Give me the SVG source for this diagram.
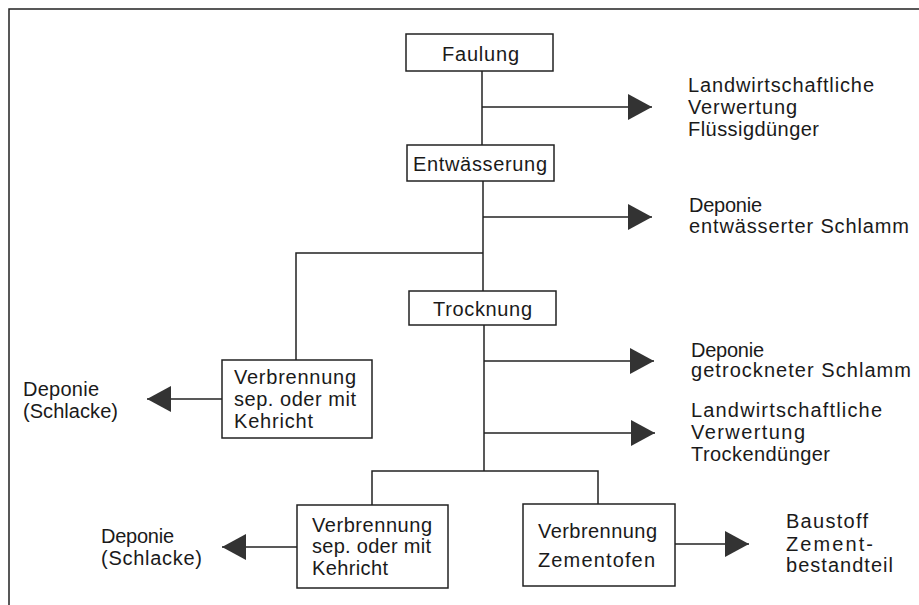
<svg xmlns="http://www.w3.org/2000/svg" width="919" height="605" viewBox="0 0 919 605">
<defs>
<style>
.box{fill:#fff;stroke:#222;stroke-width:1.5}
.ln{fill:none;stroke:#222;stroke-width:1.5}
text{font-family:"Liberation Sans",Arial,sans-serif;font-size:20px;fill:#1a1a1a}
</style>
<marker id="ah" markerUnits="userSpaceOnUse" markerWidth="24" markerHeight="26" refX="24" refY="13" orient="auto" viewBox="0 0 24 26">
<path d="M0,0 L24,13 L0,26 Z" fill="#333"/>
</marker>
</defs>
<rect width="919" height="605" fill="#fff"/>
<polyline class="ln" points="9,605 9,9 919,9"/>

<g id="connectors">
<line class="ln" x1="482" y1="71" x2="482" y2="145"/>
<line class="ln" x1="483" y1="181" x2="483" y2="291"/>
<line class="ln" x1="484" y1="325" x2="484" y2="471"/>
<line class="ln" x1="482" y1="107" x2="652" y2="107" marker-end="url(#ah)"/>
<line class="ln" x1="483" y1="217" x2="652" y2="217" marker-end="url(#ah)"/>
<polyline class="ln" points="483,253 296,253 296,360"/>
<line class="ln" x1="222" y1="399" x2="147" y2="399" marker-end="url(#ah)"/>
<line class="ln" x1="484" y1="361" x2="654" y2="361" marker-end="url(#ah)"/>
<line class="ln" x1="484" y1="433" x2="655" y2="433" marker-end="url(#ah)"/>
<polyline class="ln" points="372,505 372,471 598,471 598,504"/>
<line class="ln" x1="297" y1="547" x2="222" y2="547" marker-end="url(#ah)"/>
<line class="ln" x1="675" y1="544" x2="749" y2="544" marker-end="url(#ah)"/>
</g>

<g id="faulung">
<rect class="box" x="406" y="34" width="147" height="37"/>
<text x="442" y="61" textLength="77" lengthAdjust="spacing">Faulung</text>
</g>
<g id="entwaesserung">
<rect class="box" x="407" y="145" width="147" height="36"/>
<text x="413" y="171" textLength="134" lengthAdjust="spacing">Entwässerung</text>
</g>
<g id="trocknung">
<rect class="box" x="409" y="291" width="147" height="34"/>
<text x="433" y="316" textLength="99" lengthAdjust="spacing">Trocknung</text>
</g>
<g id="verbrennung1">
<rect class="box" x="222" y="360" width="150" height="78"/>
<text x="234" y="384" textLength="122" lengthAdjust="spacing">Verbrennung</text>
<text x="234" y="406" textLength="122" lengthAdjust="spacing">sep. oder mit</text>
<text x="234" y="428" textLength="79" lengthAdjust="spacing">Kehricht</text>
</g>
<g id="verbrennung2">
<rect class="box" x="297" y="505" width="151" height="83"/>
<text x="312" y="532" textLength="120" lengthAdjust="spacing">Verbrennung</text>
<text x="312" y="553" textLength="119" lengthAdjust="spacing">sep. oder mit</text>
<text x="312" y="575" textLength="76" lengthAdjust="spacing">Kehricht</text>
</g>
<g id="zementofen">
<rect class="box" x="523" y="504" width="152" height="82"/>
<text x="538" y="538" textLength="119" lengthAdjust="spacing">Verbrennung</text>
<text x="538" y="567" textLength="117" lengthAdjust="spacing">Zementofen</text>
</g>

<g id="out-fluessig">
<text x="688" y="92" textLength="186" lengthAdjust="spacing">Landwirtschaftliche</text>
<text x="688" y="114" textLength="109" lengthAdjust="spacing">Verwertung</text>
<text x="688" y="136" textLength="131" lengthAdjust="spacing">Flüssigdünger</text>
</g>
<g id="out-deponie-entw">
<text x="689" y="212" textLength="73" lengthAdjust="spacing">Deponie</text>
<text x="689" y="233" textLength="220" lengthAdjust="spacing">entwässerter Schlamm</text>
</g>
<g id="out-deponie-getr">
<text x="691" y="357" textLength="73" lengthAdjust="spacing">Deponie</text>
<text x="691" y="377" textLength="220" lengthAdjust="spacing">getrockneter Schlamm</text>
</g>
<g id="out-trocken">
<text x="691" y="417" textLength="191" lengthAdjust="spacing">Landwirtschaftliche</text>
<text x="691" y="439" textLength="114" lengthAdjust="spacing">Verwertung</text>
<text x="691" y="461" textLength="139" lengthAdjust="spacing">Trockendünger</text>
</g>
<g id="out-schlacke1">
<text x="23" y="396" textLength="76" lengthAdjust="spacing">Deponie</text>
<text x="23" y="418" textLength="95" lengthAdjust="spacing">(Schlacke)</text>
</g>
<g id="out-schlacke2">
<text x="101" y="543" textLength="73" lengthAdjust="spacing">Deponie</text>
<text x="101" y="565" textLength="101" lengthAdjust="spacing">(Schlacke)</text>
</g>
<g id="out-baustoff">
<text x="786" y="528" textLength="82" lengthAdjust="spacing">Baustoff</text>
<text x="786" y="551" textLength="87" lengthAdjust="spacing">Zement-</text>
<text x="786" y="572" textLength="107" lengthAdjust="spacing">bestandteil</text>
</g>
</svg>
